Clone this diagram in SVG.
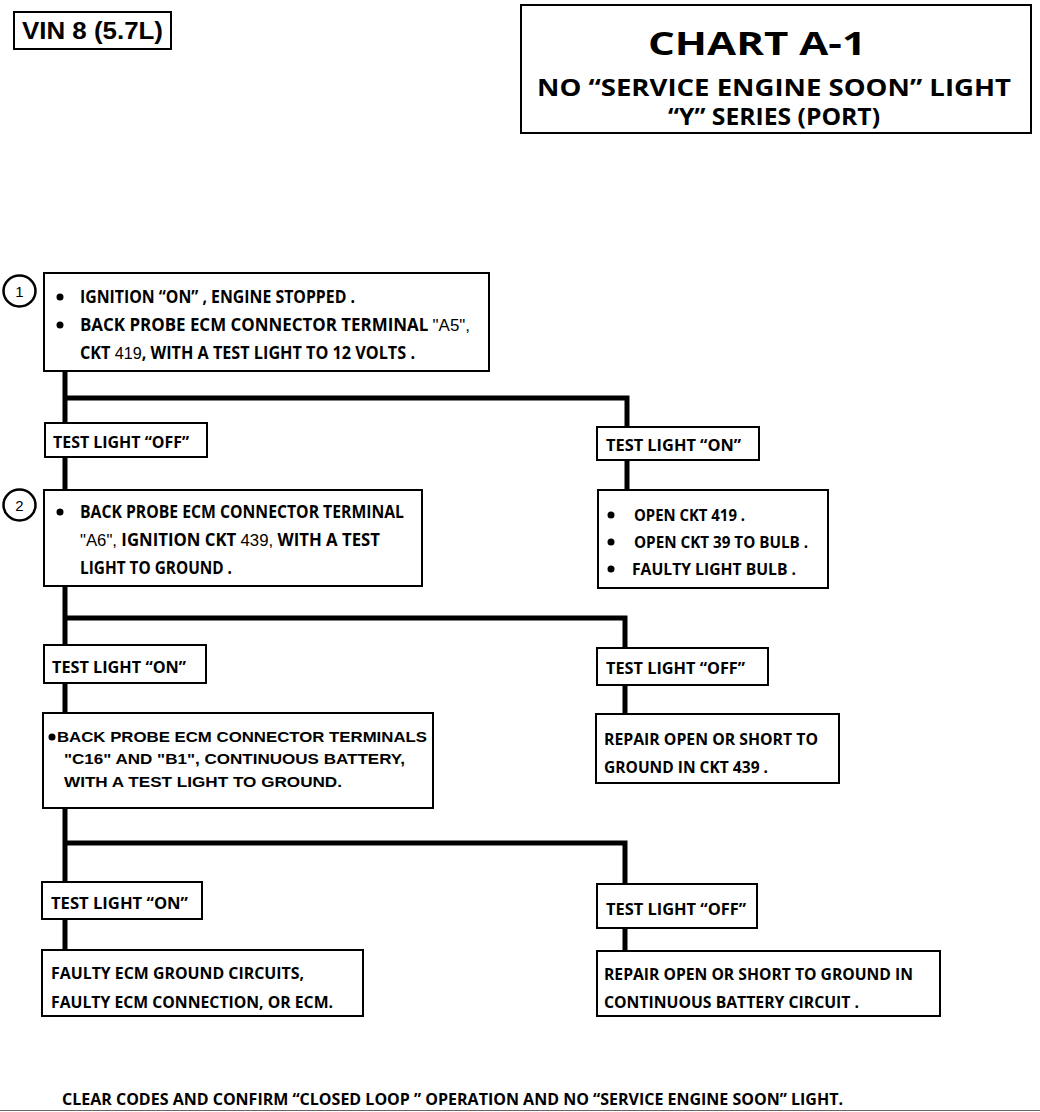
<svg xmlns="http://www.w3.org/2000/svg" width="1040" height="1112" viewBox="0 0 1040 1112">
<style>
.box{fill:#fff;stroke:#000;stroke-width:2}
.conn{fill:none;stroke:#000;stroke-width:5;stroke-linejoin:miter}
.t{font-family:"Open Sans","Liberation Sans",sans-serif;font-weight:bold;font-size:17px;fill:#000}
.s{font-size:16px}
.a{font-family:"Liberation Sans",Arial,sans-serif;font-weight:normal}
.h{font-family:"Liberation Sans",Arial,sans-serif;font-weight:bold;font-size:15px;fill:#000}
.ti{font-family:"Open Sans","Liberation Sans",sans-serif;font-weight:bold;fill:#000}
.num{font-family:"Liberation Sans",Arial,sans-serif;font-size:15px;fill:#000}
.ring{fill:#fff;stroke:#000;stroke-width:2.5}
</style>
<rect width="1040" height="1112" fill="#fff"/>

<g id="vin">
<rect x="14" y="12" width="157" height="37" class="box"/>
<text x="22" y="39" font-family="Liberation Sans, Arial, sans-serif" font-weight="bold" font-size="24" textLength="141" lengthAdjust="spacingAndGlyphs">VIN 8 (5.7L)</text>
</g>

<g id="title">
<rect x="521" y="5" width="510" height="128" class="box"/>
<text x="648" y="55" class="ti" font-size="32" textLength="218" lengthAdjust="spacingAndGlyphs">CHART A-1</text>
<text x="537" y="96" class="ti" font-size="23" textLength="474" lengthAdjust="spacingAndGlyphs">NO “SERVICE ENGINE SOON” LIGHT</text>
<text x="668" y="125" class="ti" font-size="23" textLength="212" lengthAdjust="spacingAndGlyphs">“Y” SERIES  (PORT)</text>
</g>

<g id="connectors">
<path class="conn" d="M65,371 V490"/>
<path class="conn" d="M65,398 H627 V490"/>
<path class="conn" d="M65,586 V713"/>
<path class="conn" d="M65,618 H625 V714"/>
<path class="conn" d="M65,808 V950"/>
<path class="conn" d="M65,843 H625 V951"/>
</g>

<g id="step1">
<ellipse cx="19.5" cy="291" rx="16" ry="15.5" class="ring"/>
<text x="19.5" y="296.5" class="num" text-anchor="middle">1</text>
<rect x="44" y="273" width="445" height="98" class="box"/>
<circle cx="60" cy="297" r="3.5"/>
<circle cx="60" cy="325" r="3.5"/>
<text x="80" y="303" class="t" textLength="275" lengthAdjust="spacingAndGlyphs">IGNITION “ON” , ENGINE STOPPED .</text>
<text x="80" y="331" class="t" textLength="390" lengthAdjust="spacingAndGlyphs">BACK PROBE ECM CONNECTOR TERMINAL <tspan class="a">"A5",</tspan></text>
<text x="80" y="359" class="t" textLength="335" lengthAdjust="spacingAndGlyphs">CKT <tspan class="a">419</tspan>, WITH A TEST LIGHT TO 12 VOLTS .</text>
</g>

<g id="off1">
<rect x="45" y="423" width="162" height="34" class="box"/>
<text x="53" y="448" class="t s" textLength="136" lengthAdjust="spacingAndGlyphs">TEST LIGHT “OFF”</text>
</g>

<g id="on1">
<rect x="597" y="427" width="162" height="33" class="box"/>
<text x="606" y="451" class="t s" textLength="135" lengthAdjust="spacingAndGlyphs">TEST LIGHT “ON”</text>
</g>

<g id="step2">
<ellipse cx="19.5" cy="505" rx="16" ry="15.5" class="ring"/>
<text x="19.5" y="510.5" class="num" text-anchor="middle">2</text>
<rect x="44" y="490" width="378" height="96" class="box"/>
<circle cx="60" cy="512" r="3.5"/>
<text x="80" y="518" class="t" textLength="324" lengthAdjust="spacingAndGlyphs">BACK PROBE ECM CONNECTOR TERMINAL</text>
<text x="80" y="546" class="t" textLength="300" lengthAdjust="spacingAndGlyphs"><tspan class="a">"A6",</tspan>  IGNITION CKT <tspan class="a">439,</tspan> WITH A TEST</text>
<text x="80" y="574" class="t" textLength="152" lengthAdjust="spacingAndGlyphs">LIGHT TO GROUND .</text>
</g>

<g id="causes1">
<rect x="598" y="490" width="230" height="98" class="box"/>
<circle cx="611" cy="515" r="3.5"/>
<circle cx="611" cy="542" r="3.5"/>
<circle cx="611" cy="569" r="3.5"/>
<text x="634" y="521" class="t s" textLength="111" lengthAdjust="spacingAndGlyphs">OPEN CKT 419 .</text>
<text x="634" y="548" class="t s" textLength="174" lengthAdjust="spacingAndGlyphs">OPEN CKT 39 TO BULB .</text>
<text x="632" y="575" class="t s" textLength="164" lengthAdjust="spacingAndGlyphs">FAULTY LIGHT BULB .</text>
</g>

<g id="on2">
<rect x="44" y="645" width="162" height="38" class="box"/>
<text x="52" y="673" class="t s" textLength="134" lengthAdjust="spacingAndGlyphs">TEST LIGHT “ON”</text>
</g>

<g id="off2">
<rect x="597" y="648" width="171" height="37" class="box"/>
<text x="606" y="674" class="t s" textLength="139" lengthAdjust="spacingAndGlyphs">TEST LIGHT “OFF”</text>
</g>

<g id="step3">
<rect x="43" y="713" width="390" height="95" class="box"/>
<circle cx="52" cy="737" r="3.5"/>
<text x="57" y="742" class="h" textLength="370" lengthAdjust="spacingAndGlyphs">BACK PROBE ECM CONNECTOR TERMINALS</text>
<text x="64" y="764" class="h" textLength="341" lengthAdjust="spacingAndGlyphs">"C16" AND "B1", CONTINUOUS BATTERY,</text>
<text x="64" y="787" class="h" textLength="278" lengthAdjust="spacingAndGlyphs">WITH A TEST LIGHT TO GROUND.</text>
</g>

<g id="repair1">
<rect x="596" y="714" width="243" height="69" class="box"/>
<text x="604" y="745" class="t s" textLength="214" lengthAdjust="spacingAndGlyphs">REPAIR OPEN OR SHORT TO</text>
<text x="604" y="773" class="t s" textLength="164" lengthAdjust="spacingAndGlyphs">GROUND IN CKT 439 .</text>
</g>

<g id="on3">
<rect x="42" y="882" width="160" height="37" class="box"/>
<text x="51" y="909" class="t s" textLength="137" lengthAdjust="spacingAndGlyphs">TEST LIGHT “ON”</text>
</g>

<g id="off3">
<rect x="597" y="884" width="160" height="44" class="box"/>
<text x="606" y="915" class="t s" textLength="140" lengthAdjust="spacingAndGlyphs">TEST LIGHT “OFF”</text>
</g>

<g id="ecm">
<rect x="42" y="950" width="321" height="66" class="box"/>
<text x="51" y="979" class="t s" textLength="253" lengthAdjust="spacingAndGlyphs">FAULTY ECM GROUND CIRCUITS,</text>
<text x="51" y="1008" class="t s" textLength="282" lengthAdjust="spacingAndGlyphs">FAULTY ECM CONNECTION, OR ECM.</text>
</g>

<g id="repair2">
<rect x="597" y="951" width="343" height="65" class="box"/>
<text x="604" y="980" class="t s" textLength="309" lengthAdjust="spacingAndGlyphs">REPAIR OPEN OR SHORT TO GROUND IN</text>
<text x="604" y="1008" class="t s" textLength="255" lengthAdjust="spacingAndGlyphs">CONTINUOUS BATTERY CIRCUIT .</text>
</g>

<g id="footer">
<text x="62" y="1105" class="t s" textLength="781" lengthAdjust="spacingAndGlyphs">CLEAR CODES AND CONFIRM “CLOSED LOOP ” OPERATION AND NO “SERVICE ENGINE SOON” LIGHT.</text>
<line x1="0" y1="1110.5" x2="1040" y2="1110.5" stroke="#666" stroke-width="1"/>
</g>
</svg>
